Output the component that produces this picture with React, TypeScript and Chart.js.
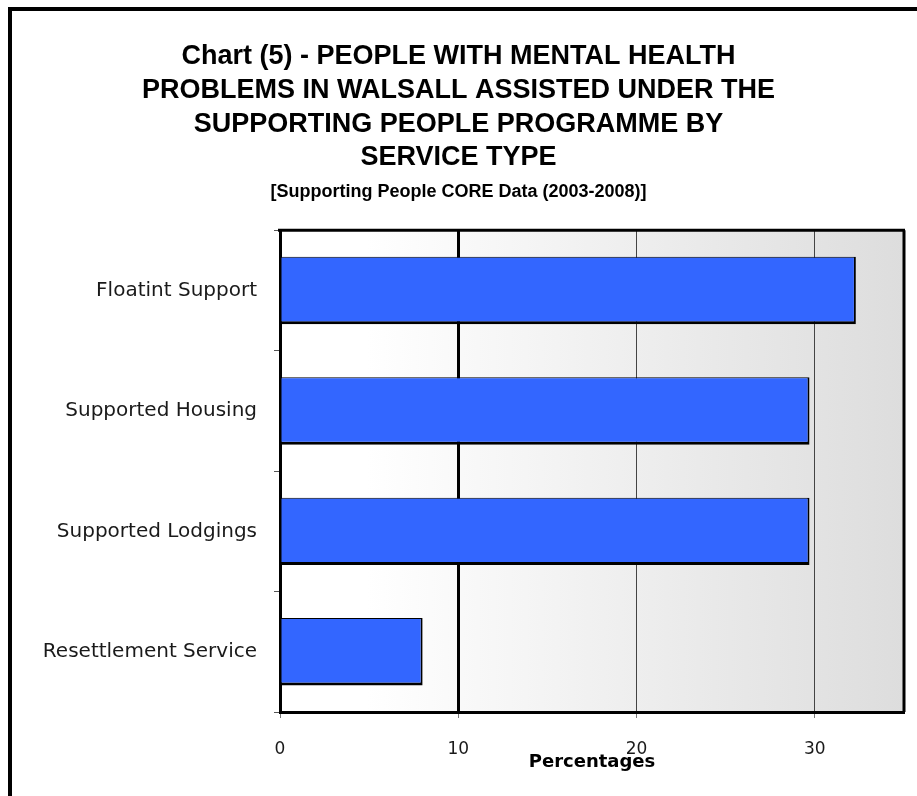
import React, { useEffect, useRef } from "react";
import { Chart, registerables } from "chart.js";

Chart.register(...registerables);

const titleLines = [
  "Chart (5) - PEOPLE WITH MENTAL HEALTH",
  "PROBLEMS IN WALSALL ASSISTED UNDER THE",
  "SUPPORTING PEOPLE PROGRAMME BY",
  "SERVICE TYPE",
];
const subtitleText = "[Supporting People CORE Data (2003-2008)]";
const categories = [
  "Floatint Support",
  "Supported Housing",
  "Supported Lodgings",
  "Resettlement Service",
];
const percentages = [32.3, 29.7, 29.7, 8.0];
const xMin = 0;
const xMax = 35;
const xStep = 10;
const xAxisTitle = "Percentages";

const W = 917;
const H = 796;

const framePlugin = {
  id: "frame",
  beforeDraw(chart: any) {
    const { ctx, chartArea } = chart;
    ctx.save();
    // outer frame (left + top visible)
    ctx.strokeStyle = "#000";
    ctx.lineWidth = 4;
    ctx.beginPath();
    ctx.moveTo(10, H + 10);
    ctx.lineTo(10, 9);
    ctx.lineTo(W + 10, 9);
    ctx.stroke();
    // plot background gradient
    const g = ctx.createLinearGradient(chartArea.left, 0, chartArea.right, 0);
    g.addColorStop(0, "#ffffff");
    g.addColorStop(0.14, "#ffffff");
    g.addColorStop(1, "#dddddd");
    ctx.fillStyle = g;
    ctx.fillRect(
      chartArea.left,
      chartArea.top,
      chartArea.right - chartArea.left,
      chartArea.bottom - chartArea.top
    );
    ctx.restore();
  },
  afterDraw(chart: any) {
    const { ctx, chartArea } = chart;
    ctx.save();
    ctx.strokeStyle = "#000";
    ctx.lineWidth = 3;
    ctx.beginPath();
    ctx.moveTo(chartArea.left - 2, chartArea.top);
    ctx.lineTo(chartArea.right + 1, chartArea.top);
    ctx.stroke();
    ctx.lineWidth = 3;
    ctx.beginPath();
    ctx.moveTo(chartArea.right, chartArea.top);
    ctx.lineTo(chartArea.right, chartArea.bottom);
    ctx.stroke();
    ctx.restore();
  },
};

export default function App() {
  const ref = useRef<HTMLCanvasElement | null>(null);

  useEffect(() => {
    if (!ref.current) return;
    const chart = new Chart(ref.current, {
      type: "bar",
      data: {
        labels: categories,
        datasets: [
          {
            data: percentages,
            backgroundColor: "#3366ff",
            borderColor: "#000000",
            borderWidth: { top: 1, right: 2, bottom: 3, left: 1 },
            borderSkipped: false,
            categoryPercentage: 1,
            barPercentage: 0.56,
          },
        ],
      },
      options: {
        indexAxis: "y",
        responsive: false,
        animation: false,
        layout: { padding: { left: 13, right: 13, top: 0, bottom: 0 } },
        plugins: {
          legend: { display: false },
          tooltip: { enabled: false },
          title: {
            display: true,
            text: titleLines,
            color: "#000",
            font: {
              family: "'Liberation Sans', Arial, sans-serif",
              size: 27,
              weight: "bold",
              lineHeight: 1.247,
            },
            padding: { top: 40, bottom: 3 },
          },
          subtitle: {
            display: true,
            text: subtitleText,
            color: "#000",
            font: {
              family: "'Liberation Sans', Arial, sans-serif",
              size: 18,
              weight: "bold",
              lineHeight: 1.2,
            },
            padding: { top: 4, bottom: 27 },
          },
        },
        scales: {
          x: {
            type: "linear",
            min: xMin,
            max: xMax,
            ticks: {
              stepSize: xStep,
              padding: 21,
              color: "#1a1a1a",
              font: { family: "'DejaVu Sans', sans-serif", size: 17 },
              maxRotation: 0,
            },
            afterBuildTicks: (scale: any) => {
              scale.ticks = scale.ticks.filter((t: any) => t.value % xStep === 0);
            },
            afterFit: (scale: any) => {
              scale.height = 84;
            },
            grid: {
              color: (ctx: any) => {
                const v = ctx.tick ? ctx.tick.value : 0;
                if (v === 0) return "rgba(0,0,0,0)";
                if (v === 10) return "#000000";
                return "#444444";
              },
              lineWidth: (ctx: any) => {
                const v = ctx.tick ? ctx.tick.value : 0;
                return v === 10 ? 3 : 1;
              },
              tickColor: "#777777",
              tickWidth: 1,
              tickLength: 6,
              drawTicks: true,
            },
            border: { display: true, color: "#000", width: 3 },
            title: {
              display: true,
              text: xAxisTitle,
              color: "#000",
              font: { family: "'DejaVu Sans', sans-serif", size: 18, weight: "bold", lineHeight: 1.2 },
              padding: { top: 0, bottom: 23 },
            },
          },
          y: {
            type: "category",
            ticks: {
              padding: 17,
              color: "#1a1a1a",
              font: { family: "'DejaVu Sans', sans-serif", size: 20 },
            },
            afterFit: (scale: any) => {
              scale.width = 267;
            },
            grid: {
              offset: true,
              drawOnChartArea: false,
              tickColor: "#555555",
              tickLength: 6,
              tickWidth: 1,
            },
            border: { display: true, color: "#000", width: 3 },
          },
        },
      },
      plugins: [framePlugin],
    } as any);
    return () => chart.destroy();
  }, []);

  return (
    <div style={{ position: "absolute", left: 0, top: 0, width: W, height: H, background: "#fff" }}>
      <canvas ref={ref} width={W} height={H} style={{ display: "block" }} />
    </div>
  );
}
